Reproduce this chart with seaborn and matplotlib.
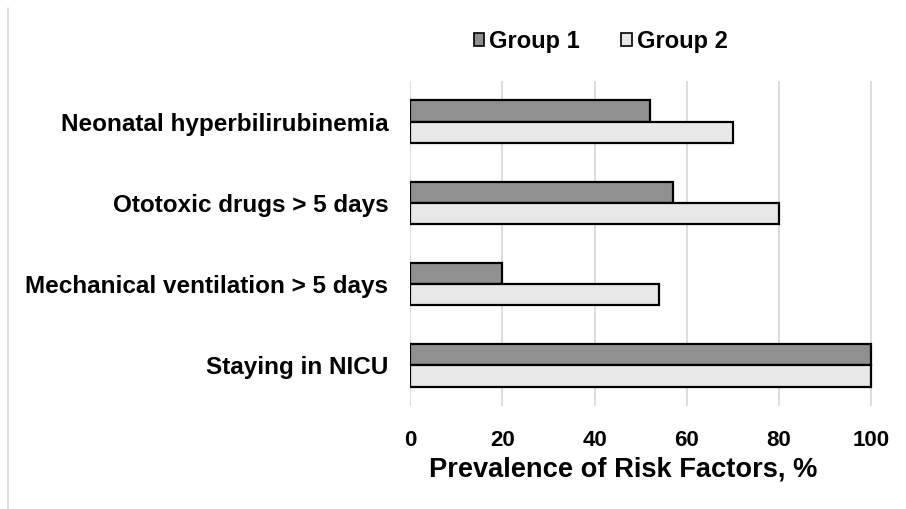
import matplotlib
matplotlib.use("Agg")
import matplotlib.pyplot as plt
import seaborn as sns
import pandas as pd
from matplotlib.lines import Line2D

categories = ["Neonatal hyperbilirubinemia", "Ototoxic drugs > 5 days",
              "Mechanical ventilation > 5 days", "Staying in NICU"]
groups = ["Group 1", "Group 2"]
group1 = [52, 57, 20, 100]
group2 = [70, 80, 54, 100]
xticks = [0, 20, 40, 60, 80, 100]

df = pd.DataFrame({
    "Risk factor": categories * 2,
    "Group": [groups[0]] * len(categories) + [groups[1]] * len(categories),
    "Prevalence": group1 + group2,
})

sns.set_theme(style="white")
plt.rcParams["font.family"] = ["Liberation Sans", "DejaVu Sans"]
plt.rcParams["font.weight"] = "bold"
plt.rcParams["text.color"] = "black"

fig = plt.figure(figsize=(9.06, 5.09), dpi=100)
ax = fig.add_axes([0.453, 0.2024, 0.5106, 0.6385])

sns.barplot(data=df, y="Risk factor", x="Prevalence", hue="Group",
            order=categories, hue_order=groups, orient="h",
            palette=["#909090", "#e8e8e8"], edgecolor="black", linewidth=1.6,
            width=0.525, gap=0, dodge=True, ax=ax, legend=True)

ax.set_xlim(0, 100.5)
ax.set_ylim(3.5, -0.5)
ax.set_xticks(xticks)
ax.set_xticklabels([str(t) for t in xticks], fontsize=16, fontweight="bold", color="black")
ax.tick_params(axis="x", length=0, pad=17)
ax.tick_params(axis="y", length=0, pad=16, labelsize=17.5, labelcolor="black")
for lbl in ax.get_yticklabels():
    lbl.set_fontweight("bold")
ax.set_ylabel("")
ax.set_xlabel("Prevalence of Risk Factors, %", fontsize=19.6, fontweight="bold",
              color="black")
ax.xaxis.label.set_va("center")
ax.xaxis.set_label_coords(0.459, -0.194)
ax.xaxis.grid(True, color="#d9d9d9", linewidth=1.3)
ax.set_axisbelow(True)
for s in ax.spines.values():
    s.set_visible(False)

leg = ax.legend(loc="center", bbox_to_anchor=(0.663, 0.918), bbox_transform=fig.transFigure,
                ncol=2, frameon=False, handlelength=0.45, handleheight=0.45,
                handletextpad=0.2, columnspacing=1.75,
                prop={"size": 17, "weight": "bold"})
for h in leg.legend_handles:
    h.set_linewidth(1.2)

fig.add_artist(Line2D([0.009, 0.009], [0.0, 0.985], transform=fig.transFigure,
                      color="#d9d9d9", linewidth=1.2))

fig.savefig("out.png", dpi=100, facecolor="white")
